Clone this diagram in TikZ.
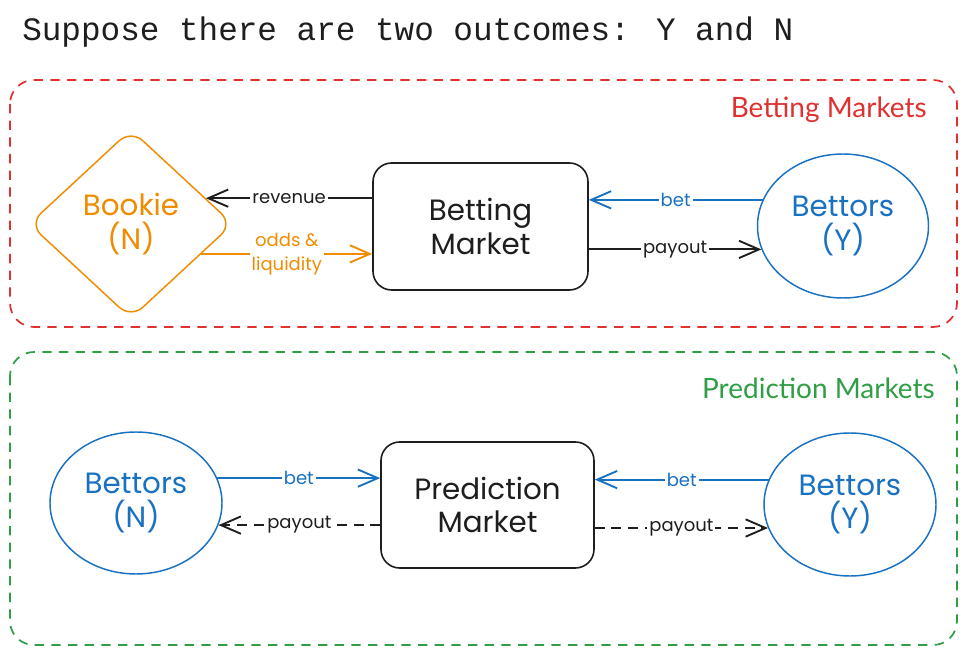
\documentclass[tikz,border=0pt]{standalone}
\usepackage{fontspec}
\setmainfont{Lato}
\newfontfamily\monof{Liberation Mono}
\newfontfamily\handf{Poppins}
\usetikzlibrary{shapes.geometric,arrows.meta}
\definecolor{cred}{HTML}{E03131}
\definecolor{cgreen}{HTML}{2F9E44}
\definecolor{cblue}{HTML}{1971C2}
\definecolor{corange}{HTML}{F08C00}
\definecolor{cblack}{HTML}{1E1E1E}
\begin{document}
\begin{tikzpicture}[x=0.75pt,y=-0.75pt,
 container/.style={dash pattern=on 7pt off 5.5pt, line width=1.3pt, rounded corners=18pt},
 grouplabel/.style={anchor=east, font=\fontsize{21}{25}\selectfont, inner sep=0pt},
 mbox/.style={draw=cblack, text=cblack, line width=1.2pt, rounded corners=14pt, align=center, font=\handf\fontsize{22}{25}\selectfont, inner sep=0pt},
 party/.style={ellipse, draw=cblue, text=cblue, line width=1.1pt, align=center, font=\handf\fontsize{22}{25}\selectfont, inner sep=0pt},
 conn/.style={line width=1.4pt, -{Straight Barb[length=15pt,width=13pt]}},
 dconn/.style={conn, dash pattern=on 7.5pt off 5pt},
 lbl/.style={fill=white, inner sep=1.5pt, font=\handf\fontsize{13.5}{18}\selectfont, midway, align=center},
]
\useasboundingbox[fill=white] (0,0) rectangle (967,655);

\node[anchor=west, inner sep=0pt, text=cblack] (title) at (22,32) {\monof\fontsize{24.5}{30}\selectfont Suppose there are two outcomes: Y and N};

% containers
\draw[container, draw=cred] (10,80) rectangle (957,327);
\draw[container, draw=cgreen] (10,352) rectangle (957,645);
\node[grouplabel, text=cred] (bmlabel) at (927,110) {Betting Markets};
\node[grouplabel, text=cgreen] (pmlabel) at (935,388) {Prediction Markets};

% top row
\node[diamond, draw=corange, text=corange, line width=1.1pt, rounded corners=12pt,
      minimum width=153pt, minimum height=141.75pt, inner sep=0pt, align=center,
      font=\handf\fontsize{22}{25}\selectfont] (bk) at (131,224) {Bookie\\(N)};
\node[mbox, minimum width=161.25pt, minimum height=95.25pt] (bm) at (480.5,226.5) {Betting\\Market};
\node[party, minimum width=128.25pt, minimum height=108pt] (by) at (843,226) {Bettors\\(Y)};

\draw[conn, draw=cblack] (bm.west |- bk.19) -- (bk.19) node[lbl, text=cblack] {revenue};
\draw[conn, draw=corange] (bk.-23) -- (bk.-23 -| bm.west) node[lbl, text=corange] {odds \&\\liquidity};
\draw[conn, draw=cblue] (by.162) -- (by.162 -| bm.east) node[lbl, text=cblue] {bet};
\draw[conn, draw=cblack] (by.196 -| bm.east) -- (by.196) node[lbl, text=cblack] {payout};

% bottom row
\node[party, minimum width=129pt, minimum height=106.5pt] (bn) at (136,503) {Bettors\\(N)};
\node[mbox, minimum width=159.75pt, minimum height=94.5pt] (pm) at (487.5,505) {Prediction\\Market};
\node[party, minimum width=129pt, minimum height=107.25pt] (by2) at (850,504.5) {Bettors\\(Y)};

\draw[conn, draw=cblue] (bn.17) -- (bn.17 -| pm.west) node[lbl, text=cblue] {bet};
\draw[dconn, draw=cblack] (bn.-15 -| pm.west) -- (bn.-15) node[lbl, text=cblack] {payout};
\draw[conn, draw=cblue] (by2.163) -- (by2.163 -| pm.east) node[lbl, text=cblue] {bet};
\draw[dconn, draw=cblack] (by2.196 -| pm.east) -- (by2.196) node[lbl, text=cblack] {payout};
\end{tikzpicture}
\end{document}
